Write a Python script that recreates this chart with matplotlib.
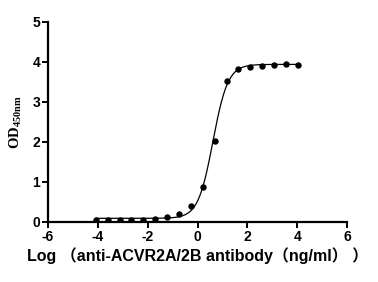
import numpy as np
import matplotlib
matplotlib.use("Agg")
import matplotlib.pyplot as plt

log_conc = [-4.08, -3.60, -3.13, -2.65, -2.17, -1.69, -1.22, -0.74, -0.26,
            0.21, 0.69, 1.17, 1.64, 2.12, 2.60, 3.08, 3.55, 4.03]
od450 = [0.06, 0.06, 0.06, 0.06, 0.06, 0.08, 0.13, 0.19, 0.41,
         0.88, 2.03, 3.52, 3.83, 3.88, 3.91, 3.93, 3.96, 3.92]

# 4PL fit parameters (bottom, top, logEC50, hill)
bottom, top, logec50, hill = 0.09, 3.94, 0.62, 1.45

plt.rcParams['mathtext.fontset'] = 'custom'
plt.rcParams['mathtext.bf'] = 'Liberation Serif:bold'
plt.rcParams['mathtext.rm'] = 'Liberation Serif:bold'
plt.rcParams['axes.unicode_minus'] = False

fig = plt.figure(figsize=(3.78, 2.82), dpi=100)
ax = fig.add_axes([0.127, 0.213, 0.791, 0.709])

xf = np.linspace(min(log_conc), max(log_conc), 400)
yf = bottom + (top - bottom) / (1 + 10 ** ((logec50 - xf) * hill))
ax.plot(xf, yf, color='black', lw=0.9)
ax.plot(log_conc, od450, 'o', color='black', ms=3.6)

ax.set_xlim(-6, 6)
ax.set_ylim(0, 5)
ax.set_xticks([-6, -4, -2, 0, 2, 4, 6])
ax.set_yticks([0, 1, 2, 3, 4, 5])
for s in ['top', 'right']:
    ax.spines[s].set_visible(False)
for s in ['left', 'bottom']:
    ax.spines[s].set_linewidth(1.6)
ax.tick_params(axis='both', direction='out', length=4, width=1.4,
               labelsize=10, pad=1.5)
for lab in ax.get_xticklabels() + ax.get_yticklabels():
    lab.set_fontfamily('Liberation Sans')
    lab.set_fontweight('bold')

ax.set_xlabel('Log （anti-ACVR2A/2B antibody（ng/ml） ）',
              fontfamily=['Liberation Sans', 'Noto Sans CJK SC'],
              fontweight='bold', fontsize=11.5, labelpad=3)
ax.set_ylabel(r'$\mathbf{OD_{450nm}}$', fontsize=10.5, labelpad=6)

fig.savefig('out.png', dpi=100)
